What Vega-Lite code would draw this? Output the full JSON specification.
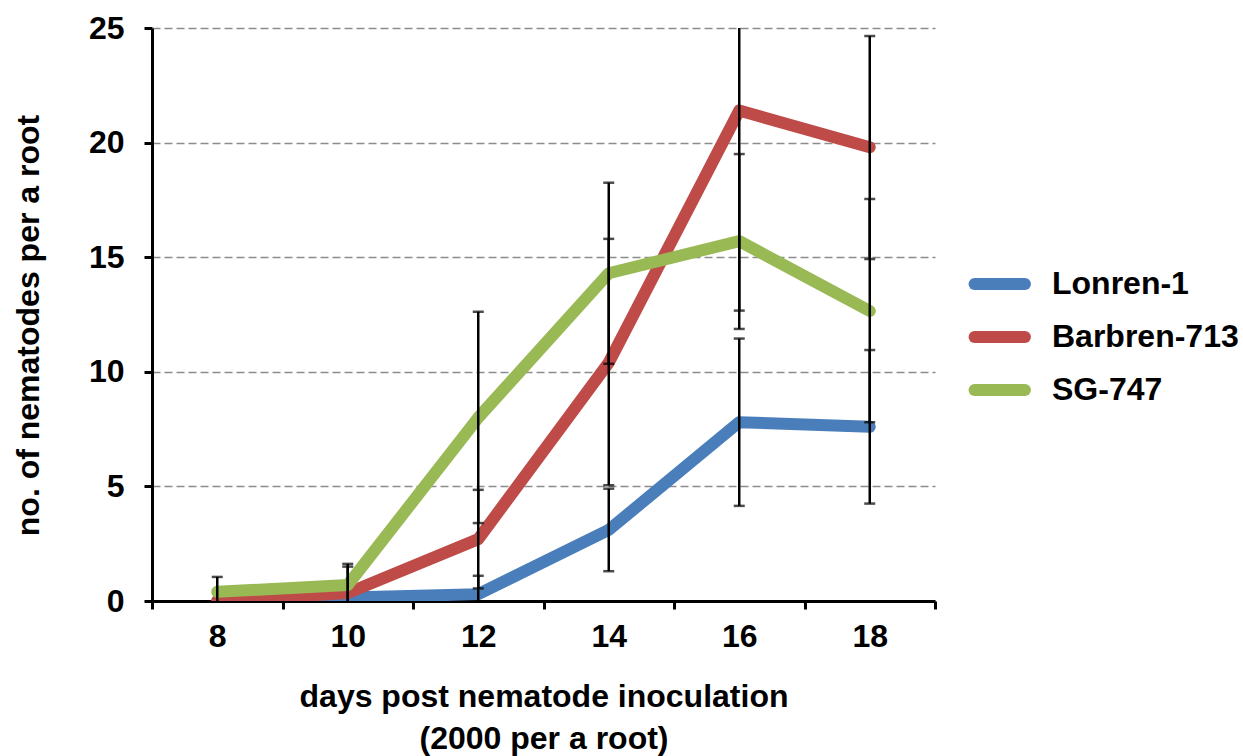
{
  "$schema": "https://vega.github.io/schema/vega-lite/v6.json",
  "autosize": "none",
  "width": 783,
  "height": 573,
  "padding": {"left": 152, "top": 28, "right": 308, "bottom": 155},
  "background": "white",
  "config": {
    "view": {"stroke": null},
    "font": "Liberation Sans"
  },
  "data": {
    "values": [
      {"series": "Lonren-1", "day": 8, "mean": 0.0, "lo": 0.0, "hi": 0.0},
      {"series": "Lonren-1", "day": 10, "mean": 0.15, "lo": 0.15, "hi": 0.15},
      {"series": "Lonren-1", "day": 12, "mean": 0.3, "lo": -0.5, "hi": 1.1},
      {"series": "Lonren-1", "day": 14, "mean": 3.1, "lo": 1.3, "hi": 4.9},
      {"series": "Lonren-1", "day": 16, "mean": 7.8, "lo": 4.15, "hi": 11.45},
      {"series": "Lonren-1", "day": 18, "mean": 7.6, "lo": 4.25, "hi": 10.95},
      {"series": "Barbren-713", "day": 8, "mean": 0.0, "lo": 0.0, "hi": 0.0},
      {"series": "Barbren-713", "day": 10, "mean": 0.35, "lo": -0.9, "hi": 1.5},
      {"series": "Barbren-713", "day": 12, "mean": 2.7, "lo": 0.55, "hi": 4.85},
      {"series": "Barbren-713", "day": 14, "mean": 10.4, "lo": 5.05, "hi": 15.8},
      {"series": "Barbren-713", "day": 16, "mean": 21.4, "lo": 12.67, "hi": 30.1},
      {"series": "Barbren-713", "day": 18, "mean": 19.8, "lo": 14.92, "hi": 24.65},
      {"series": "SG-747", "day": 8, "mean": 0.4, "lo": -0.25, "hi": 1.05},
      {"series": "SG-747", "day": 10, "mean": 0.7, "lo": -0.2, "hi": 1.62},
      {"series": "SG-747", "day": 12, "mean": 8.0, "lo": 3.4, "hi": 12.62},
      {"series": "SG-747", "day": 14, "mean": 14.3, "lo": 10.35, "hi": 18.25},
      {"series": "SG-747", "day": 16, "mean": 15.7, "lo": 11.87, "hi": 19.5},
      {"series": "SG-747", "day": 18, "mean": 12.65, "lo": 7.8, "hi": 17.54}
    ]
  },
  "layer": [
    {
      "mark": {"type": "line", "strokeWidth": 12, "strokeCap": "round", "strokeJoin": "round", "clip": true},
      "encoding": {
        "x": {
          "field": "day", "type": "quantitative",
          "scale": {"domain": [7, 19], "nice": false, "zero": false},
          "axis": {
            "values": [7, 8, 9, 10, 11, 12, 13, 14, 15, 16, 17, 18, 19],
            "format": "d",
            "labelExpr": "datum.value % 2 == 0 ? datum.label : ''",
            "grid": false,
            "domainColor": "black", "domainWidth": 3,
            "tickColor": {"condition": {"test": "datum.value % 2 == 1", "value": "black"}, "value": "transparent"},
            "tickWidth": 3, "tickSize": 8,
            "labelFont": "Liberation Sans", "labelFontWeight": "bold", "labelFontSize": 32, "labelColor": "black",
            "labelPadding": 12,
            "title": ["days post nematode inoculation", "(2000 per a root)"],
            "titleFont": "Liberation Sans", "titleFontWeight": "bold", "titleFontSize": 32, "titleColor": "black",
            "titleLineHeight": 42, "titleBaseline": "top", "titleY": 80
          }
        },
        "y": {
          "field": "mean", "type": "quantitative",
          "scale": {"domain": [0, 25], "nice": false},
          "axis": {
            "values": [0, 5, 10, 15, 20, 25],
            "grid": true, "gridColor": "#8c8c8c", "gridDash": [8, 4], "gridWidth": 1.5,
            "domainColor": "black", "domainWidth": 3,
            "tickColor": "black", "tickWidth": 3, "tickSize": 8,
            "labelFont": "Liberation Sans", "labelFontWeight": "bold", "labelFontSize": 32, "labelColor": "black",
            "labelPadding": 20,
            "title": "no. of nematodes per a root",
            "titleFont": "Liberation Sans", "titleFontWeight": "bold", "titleFontSize": 32, "titleColor": "black",
            "titleX": -124, "titleY": 297, "titleBaseline": "middle", "titleAlign": "center", "titleAngle": -90
          }
        },
        "color": {
          "field": "series", "type": "nominal",
          "scale": {"domain": ["Lonren-1", "Barbren-713", "SG-747"], "range": ["#4a7ebb", "#be4b48", "#98b954"]},
          "legend": {
            "title": null, "orient": "none", "legendX": 810, "legendY": 234,
            "symbolType": "M-0.6,0H2.6", "symbolSize": 992, "symbolStrokeWidth": 12,
            "labelFont": "Liberation Sans", "labelFontWeight": "bold", "labelFontSize": 32, "labelColor": "black",
            "labelOffset": 46, "rowPadding": 5, "labelLimit": 0,
            "encode": {"symbols": {"update": {"strokeCap": {"value": "round"}}}}
          }
        }
      }
    },
    {
      "transform": [{"filter": "datum.hi > datum.mean"}],
      "mark": {"type": "rule", "color": "black", "strokeWidth": 2.5, "clip": true},
      "encoding": {
        "x": {"field": "day", "type": "quantitative"},
        "y": {"field": "lo", "type": "quantitative"},
        "y2": {"field": "hi"}
      }
    },
    {
      "transform": [{"filter": "datum.hi > datum.mean"}],
      "mark": {"type": "tick", "color": "black", "orient": "horizontal", "size": 11, "thickness": 2.5, "clip": true},
      "encoding": {
        "x": {"field": "day", "type": "quantitative"},
        "y": {"field": "hi", "type": "quantitative"}
      }
    },
    {
      "transform": [{"filter": "datum.hi > datum.mean"}],
      "mark": {"type": "tick", "color": "black", "orient": "horizontal", "size": 11, "thickness": 2.5, "clip": true},
      "encoding": {
        "x": {"field": "day", "type": "quantitative"},
        "y": {"field": "lo", "type": "quantitative"}
      }
    }
  ]
}
